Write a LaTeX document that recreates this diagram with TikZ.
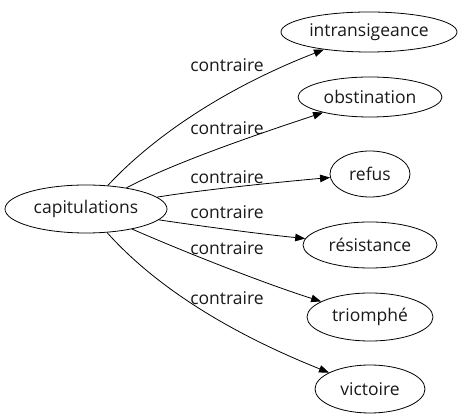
\documentclass[tikz,border=0pt]{standalone}
\usepackage{fontspec}
\setmainfont{Open Sans}
\usetikzlibrary{shapes.geometric,arrows.meta}
\begin{document}
\begin{tikzpicture}[x=1pt,y=-1pt,
  every node/.style={font=\fontsize{17.5}{20}\selectfont, text=black!90},
  term/.style={draw, ellipse, inner sep=0pt, line width=0.8pt},
  rel/.style={draw, line width=0.8pt, -{Triangle[length=10pt,width=7.5pt]}},
  lab/.style={inner sep=0pt}]
\useasboundingbox (0,0) rectangle (464,419);
\node[term, minimum width=162pt, minimum height=48pt] (cap) at (86,209) {capitulations};
\node[term, minimum width=176pt, minimum height=40pt] (int) at (369,32) {intransigeance};
\node[term, minimum width=144pt, minimum height=40pt] (obs) at (370,97) {obstination};
\node[term, minimum width=80pt, minimum height=46pt] (ref) at (370,174) {refus};
\node[term, minimum width=134pt, minimum height=46pt] (res) at (370,245) {résistance};
\node[term, minimum width=126pt, minimum height=48pt] (tri) at (370,317) {triomphé};
\node[term, minimum width=110pt, minimum height=48pt] (vic) at (370,389) {victoire};
\draw[rel] (cap) .. controls (150,140) and (220,90) .. (int);
\draw[rel] (cap) .. controls (170,165) and (240,140) .. (obs);
\draw[rel] (cap) .. controls (200,190) and (280,182) .. (ref);
\draw[rel] (cap) .. controls (200,226) and (260,234) .. (res);
\draw[rel] (cap) .. controls (180,250) and (260,282) .. (tri);
\draw[rel] (cap) .. controls (145,275) and (210,325) .. (vic);
\node[lab] (l1) at (227,65) {contraire};
\node[lab] (l2) at (227,128) {contraire};
\node[lab] (l3) at (227,177) {contraire};
\node[lab] (l4) at (227,212) {contraire};
\node[lab] (l5) at (227,248) {contraire};
\node[lab] (l6) at (227,298) {contraire};
\end{tikzpicture}
\end{document}
